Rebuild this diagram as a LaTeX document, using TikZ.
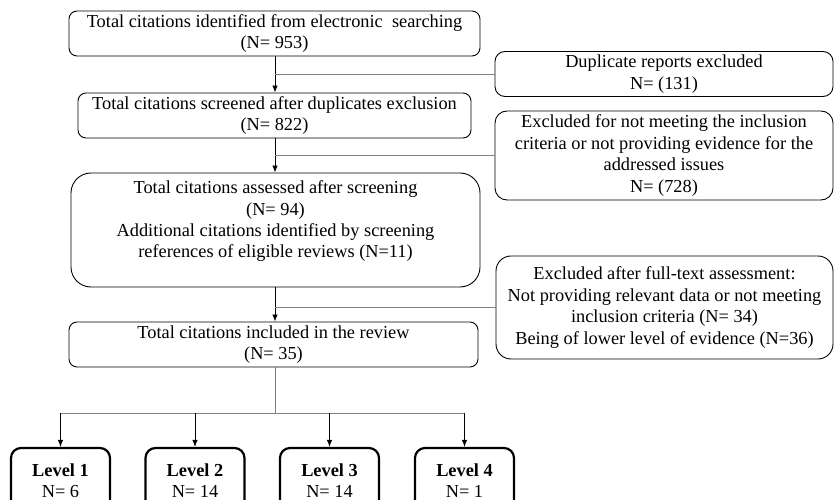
\documentclass[tikz,border=0pt]{standalone}
\usepackage{fontspec}
\setmainfont{Liberation Serif}
\usetikzlibrary{arrows.meta}

\tikzset{
  box/.style={draw, rounded corners=8bp, line width=0.9bp, align=center, inner sep=0pt,
    font=\fontsize{18.4}{21.5}\selectfont},
  lvbox/.style={box, line width=2.2bp, rounded corners=10bp, minimum width=99bp, minimum height=65bp},
  arr/.style={-{Latex[length=7bp,width=5.5bp]}, line width=0.9bp},
  side/.style={gray, line width=0.8bp},
}

\begin{document}
\begin{tikzpicture}[x=1bp,y=-1bp]
	\useasboundingbox (0,0) rectangle (834,500);
	\coordinate (spine) at (275,0);
	\coordinate (bus) at (275,413);
	
	% main column
	\node[box, minimum width=411bp, minimum height=45bp] (ident) at (274.5,33.5) {Total citations identified from electronic\ \ searching\\(N= 953)};
	\node[box, minimum width=393bp, minimum height=45bp] (screen) at (274.5,115.5) {Total citations screened after duplicates exclusion\\(N= 822)};
	\node[box, rounded corners=20bp, minimum width=409bp, minimum height=114bp] (assess) at (275.5,230) {Total citations assessed after screening\\(N= 94)\\Additional citations identified by screening\\references of eligible reviews (N=11)\\~};
	\node[box, minimum width=409bp, minimum height=45bp] (incl) at (273.5,344.5) {Total citations included in the review\\(N= 35)};
	
	% excluded
	\node[box, rounded corners=10bp, minimum width=338bp, minimum height=45bp] (dup) at (664,74) {Duplicate reports excluded\\N= (131)};
	\node[box, rounded corners=12bp, minimum width=338bp, minimum height=89bp] (excla) at (664,155.5) {Excluded for not meeting the inclusion\\criteria or not providing evidence for the\\addressed issues\\N= (728)};
	\node[box, rounded corners=15bp, minimum width=337bp, minimum height=103bp] (exclb) at (664.5,307.5) {Excluded after full-text assessment:\\Not providing relevant data or not meeting\\inclusion criteria (N= 34)\\Being of lower level of evidence (N=36)};
	
	% levels
	\node[lvbox] (lv1) at (60.5,480.5) {\textbf{Level 1}\\N= 6};
	\node[lvbox] (lv2) at (195,480.5) {\textbf{Level 2}\\N= 14};
	\node[lvbox] (lv3) at (329.5,480.5) {\textbf{Level 3}\\N= 14};
	\node[lvbox] (lv4) at (464.5,480.5) {\textbf{Level 4}\\N= 1};
	
	\draw[arr] (ident.south -| spine) -- (screen.north -| spine);
	\draw[arr] (screen.south -| spine) -- (assess.north -| spine);
	\draw[arr] (assess.south -| spine) -- (incl.north -| spine);
	
	\draw[side] (dup.west -| spine) -- (dup.west);
	\draw[side] (excla.west -| spine) -- (excla.west);
	\draw[side] (exclb.west -| spine) -- (exclb.west);
	
	\draw[side] (incl.south -| spine) -- (bus);
	\draw[side] (lv1.north |- bus) -- (lv4.north |- bus);
	\foreach \i in {1,...,4}
		\draw[arr] (lv\i.north |- bus) -- (lv\i.north);
\end{tikzpicture}
\end{document}
